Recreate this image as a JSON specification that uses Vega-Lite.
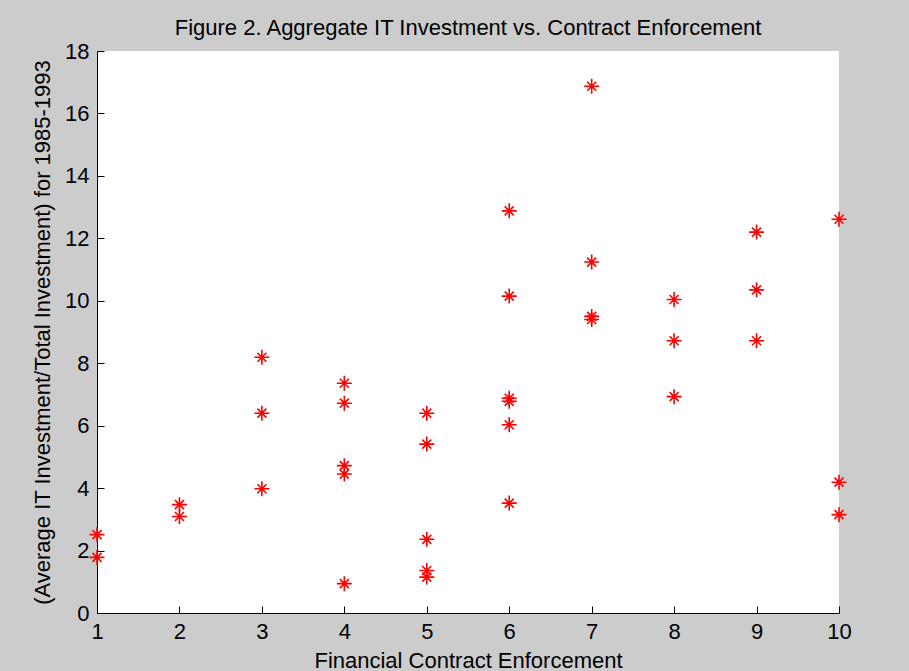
{
  "$schema": "https://vega.github.io/schema/vega-lite/v6.json",
  "width": 742,
  "height": 562,
  "autosize": {"type": "none"},
  "padding": {"left": 97, "top": 51, "right": 70, "bottom": 58},
  "background": "#cccccc",
  "title": {
    "text": "Figure 2. Aggregate IT Investment vs. Contract Enforcement",
    "font": "Liberation Sans",
    "fontSize": 22,
    "fontWeight": "normal",
    "color": "#000000",
    "anchor": "middle",
    "frame": "group",
    "baseline": "alphabetic",
    "offset": 17,
    "dy": 34
  },
  "config": {
    "view": {"fill": "#ffffff", "stroke": null},
    "axis": {
      "labelFont": "Liberation Sans",
      "labelFontSize": 22,
      "labelColor": "#000000",
      "titleFont": "Liberation Sans",
      "titleFontSize": 22,
      "titleFontWeight": "normal",
      "titleColor": "#000000",
      "domainColor": "#000000",
      "domainWidth": 1,
      "tickColor": "#000000",
      "tickWidth": 1,
      "tickSize": -7,
      "grid": false
    }
  },
  "data": {
    "values": [
      {"enforcement": 1, "it_share": 2.51},
      {"enforcement": 1, "it_share": 1.78},
      {"enforcement": 2, "it_share": 3.47},
      {"enforcement": 2, "it_share": 3.09},
      {"enforcement": 3, "it_share": 8.19},
      {"enforcement": 3, "it_share": 6.40},
      {"enforcement": 3, "it_share": 3.98},
      {"enforcement": 4, "it_share": 7.36},
      {"enforcement": 4, "it_share": 6.72},
      {"enforcement": 4, "it_share": 4.72},
      {"enforcement": 4, "it_share": 4.45},
      {"enforcement": 4, "it_share": 0.94},
      {"enforcement": 5, "it_share": 6.40},
      {"enforcement": 5, "it_share": 5.41},
      {"enforcement": 5, "it_share": 2.36},
      {"enforcement": 5, "it_share": 1.36},
      {"enforcement": 5, "it_share": 1.15},
      {"enforcement": 6, "it_share": 12.88},
      {"enforcement": 6, "it_share": 10.15},
      {"enforcement": 6, "it_share": 6.88},
      {"enforcement": 6, "it_share": 6.78},
      {"enforcement": 6, "it_share": 6.03},
      {"enforcement": 6, "it_share": 3.52},
      {"enforcement": 7, "it_share": 16.87},
      {"enforcement": 7, "it_share": 11.24},
      {"enforcement": 7, "it_share": 9.50},
      {"enforcement": 7, "it_share": 9.40},
      {"enforcement": 8, "it_share": 10.04},
      {"enforcement": 8, "it_share": 8.72},
      {"enforcement": 8, "it_share": 6.93},
      {"enforcement": 9, "it_share": 12.20},
      {"enforcement": 9, "it_share": 10.35},
      {"enforcement": 9, "it_share": 8.72},
      {"enforcement": 10, "it_share": 12.61},
      {"enforcement": 10, "it_share": 4.19},
      {"enforcement": 10, "it_share": 3.15}
    ]
  },
  "mark": {
    "type": "point",
    "shape": "M-1,0H1M0,-1V1M-0.6,-0.6L0.6,0.6M-0.6,0.6L0.6,-0.6",
    "size": 225,
    "filled": false,
    "color": "#ff0000",
    "strokeWidth": 1.6,
    "opacity": 1,
    "clip": false
  },
  "encoding": {
    "x": {
      "field": "enforcement",
      "type": "quantitative",
      "scale": {"domain": [1, 10], "nice": false, "zero": false},
      "axis": {
        "title": "Financial Contract Enforcement",
        "values": [1, 2, 3, 4, 5, 6, 7, 8, 9, 10],
        "labelPadding": 15,
        "labelFlush": false,
        "labelOverlap": false,
        "titleX": 371,
        "titleY": 47,
        "titleBaseline": "middle",
        "titleAnchor": null
      }
    },
    "y": {
      "field": "it_share",
      "type": "quantitative",
      "scale": {"domain": [0, 18], "nice": false},
      "axis": {
        "title": "(Average IT Investment/Total Investment) for 1985-1993",
        "values": [0, 2, 4, 6, 8, 10, 12, 14, 16, 18],
        "labelPadding": 15,
        "labelFlush": false,
        "labelOverlap": false,
        "titleX": -55,
        "titleY": 281,
        "titleAngle": 270,
        "titleBaseline": "middle",
        "titleAlign": "center",
        "titleAnchor": null
      }
    }
  }
}
